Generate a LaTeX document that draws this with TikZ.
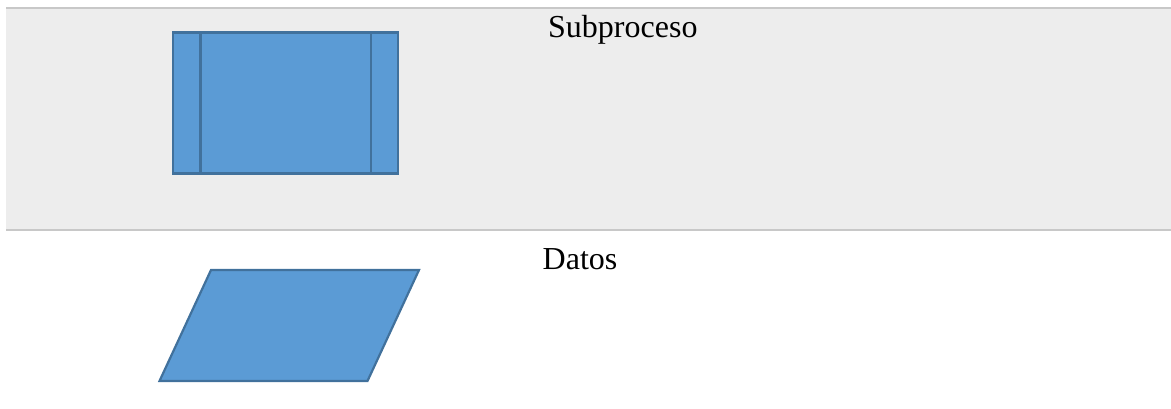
\documentclass[tikz,border=0pt]{standalone}
\usepackage{fontspec}
\setmainfont{Liberation Serif}
\usetikzlibrary{calc}
\definecolor{shapefill}{HTML}{5B9BD5}
\definecolor{shapeedge}{HTML}{41719C}
\definecolor{bandfill}{HTML}{EDEDED}
\definecolor{bandrule}{HTML}{C8C8C8}
\begin{document}
\begin{tikzpicture}[x=1pt,y=-1pt,
  symbol/.style={fill=shapefill,draw=shapeedge,line width=2.2pt},
  label/.style={font=\fontsize{32}{38}\selectfont,inner sep=0pt,anchor=base west},
  rule/.style={draw=bandrule,line width=2.2pt}]
  \useasboundingbox (0,0) rectangle (1171,408);
  % shaded row with its rules
  \fill[bandfill] (6,8) rectangle (1171,230);
  \draw[rule] (6,8) -- (1171,8);
  \draw[rule] (6,230) -- (1171,230);
  % predefined process symbol
  \node[symbol,rectangle,minimum width=225pt,minimum height=141pt,inner sep=0pt]
    (sub) at (285.5,103) {};
  \draw[shapeedge,line width=2.2pt]
    ($(sub.north west)+(28.5,0)$) -- ($(sub.south west)+(28.5,0)$)
    ($(sub.north east)+(-28.5,0)$) -- ($(sub.south east)+(-28.5,0)$);
  \node[label] (subtxt) at (548,37) {Subproceso};
  % data symbol
  \draw[symbol] (211,270) -- (419,270) -- (367.5,381) -- (159.5,381) -- cycle;
  \node[label] (datatxt) at (542.5,269) {Datos};
\end{tikzpicture}
\end{document}
